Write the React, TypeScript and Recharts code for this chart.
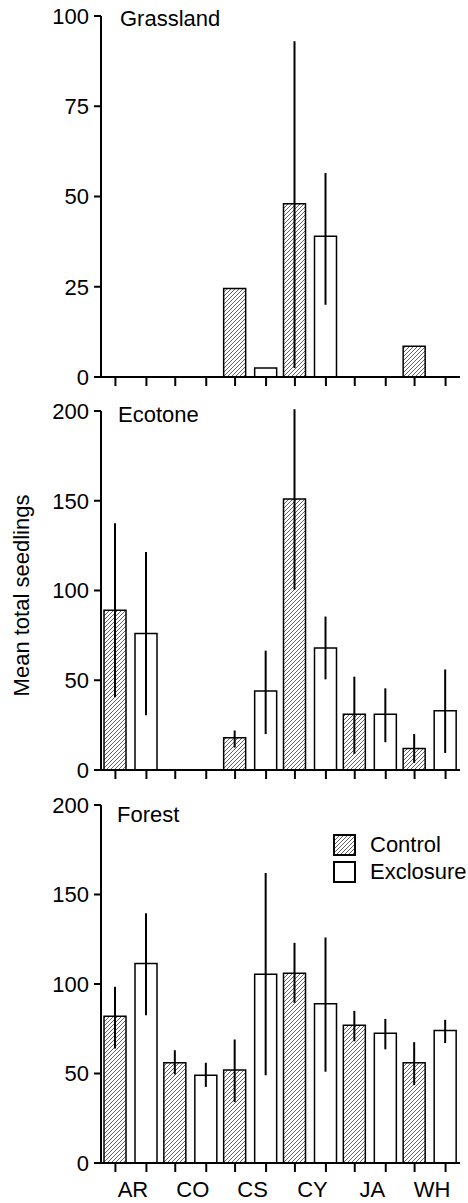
import React from 'react';
import { BarChart, Bar, XAxis, YAxis, ErrorBar, Legend } from 'recharts';

const categories = ['AR', 'CO', 'CS', 'CY', 'JA', 'WH'];

// Grassland
const grassControl = [0, 0, 24.5, 48, 0, 8.5];
const grassControlLow = [null, null, null, 2.5, null, null];
const grassControlHigh = [null, null, null, 93, null, null];
const grassExcl = [0, 0, 2.5, 39, 0, 0];
const grassExclLow = [null, null, null, 20, null, null];
const grassExclHigh = [null, null, null, 56.5, null, null];

// Ecotone
const ecoControl = [89, 0, 18, 151, 31, 12];
const ecoControlLow = [40.5, null, 12.5, 100.5, 9, 4];
const ecoControlHigh = [137.5, null, 22, 201, 52, 20];
const ecoExcl = [76, 0, 44, 68, 31, 33];
const ecoExclLow = [30.5, null, 20, 50.5, 15.5, 9.5];
const ecoExclHigh = [121.5, null, 66.5, 85.5, 45.5, 56];

// Forest
const forControl = [82, 56, 52, 106, 77, 56];
const forControlLow = [64, 49.5, 34, 89.5, 68, 43.5];
const forControlHigh = [98.5, 63, 69, 123, 85, 67.5];
const forExcl = [111.5, 49, 105.5, 89, 72.5, 74];
const forExclLow = [82.5, 42.5, 49, 51, 63.5, 67];
const forExclHigh = [139.5, 56, 162, 126, 80.5, 80];

const grassTicks = [0, 25, 50, 75, 100];
const otherTicks = [0, 50, 100, 150, 200];

const BAR_SIZE = 22;
const BAR_GAP = 9;
const FS = 22;
const FONT = '"Liberation Sans", Arial, Helvetica, sans-serif';

type N = number | null;
const err = (m: number, lo: N, hi: N) => (lo == null || hi == null ? null : [m - lo, hi - m]);

const buildRows = (c: number[], cl: N[], ch: N[], e: number[], el: N[], eh: N[]) =>
  categories.map((cat, i) => ({
    cat,
    control: c[i],
    exclosure: e[i],
    cErr: err(c[i], cl[i], ch[i]),
    eErr: err(e[i], el[i], eh[i]),
  }));

const grassRows = buildRows(grassControl, grassControlLow, grassControlHigh, grassExcl, grassExclLow, grassExclHigh);
const ecoRows = buildRows(ecoControl, ecoControlLow, ecoControlHigh, ecoExcl, ecoExclLow, ecoExclHigh);
const forRows = buildRows(forControl, forControlLow, forControlHigh, forExcl, forExclLow, forExclHigh);

const XTick = (props: any) => {
  const { x, y, payload, showLabel } = props;
  const half = (BAR_SIZE + BAR_GAP) / 2;
  return (
    <g>
      <line x1={x - half} x2={x - half} y1={y} y2={y + 9} stroke="#000" strokeWidth={2} />
      <line x1={x + half} x2={x + half} y1={y} y2={y + 9} stroke="#000" strokeWidth={2} />
      {showLabel && (
        <text x={x + 2} y={y + 34} textAnchor="middle" fontSize={FS} fill="#000" fontFamily={FONT}>
          {payload.value}
        </text>
      )}
    </g>
  );
};

const LegendContent = (props: any) => {
  const { payload } = props;
  return (
    <div style={{ display: 'flex', flexDirection: 'column', gap: 6, fontFamily: FONT }}>
      {(payload || []).map((p: any) => (
        <div key={p.value} style={{ display: 'flex', alignItems: 'center', height: 21 }}>
          <svg width={23} height={22} style={{ display: 'block' }}>
            <rect x={1} y={1} width={21} height={20} fill={p.value === 'Control' ? 'url(#hatch)' : '#fff'} stroke="#000" strokeWidth={2} />
          </svg>
          <span style={{ marginLeft: 14, fontSize: FS, lineHeight: '21px', color: '#000', whiteSpace: 'nowrap' }}>{p.value}</span>
        </div>
      ))}
    </div>
  );
};

const YLabel = (props: any) => {
  const vb = props.viewBox || { x: 0, y: 0, width: 0, height: 0 };
  const cx = vb.x + 21;
  const cy = vb.y + vb.height / 2 + 5;
  return (
    <text
      x={cx}
      y={cy}
      transform={`rotate(-90, ${cx}, ${cy})`}
      textAnchor="middle"
      dominantBaseline="central"
      fontSize={FS}
      fill="#000"
      fontFamily={FONT}
    >
      Mean total seedlings
    </text>
  );
};

type PanelProps = {
  rows: any[];
  top: number;
  height: number;
  marginTop: number;
  xHeight: number;
  max: number;
  ticks: number[];
  showLabels?: boolean;
  yLabel?: boolean;
  legend?: boolean;
};

const Panel = ({ rows, top, height, marginTop, xHeight, max, ticks, showLabels, yLabel, legend }: PanelProps) => (
  <div style={{ position: 'absolute', left: 0, top, width: 468, height }}>
    <BarChart
      width={468}
      height={height}
      data={rows}
      margin={{ top: marginTop, right: 8, bottom: 0, left: 0 }}
      barGap={BAR_GAP}
    >
      <XAxis
        dataKey="cat"
        height={xHeight}
        axisLine={{ stroke: '#000', strokeWidth: 2 }}
        tickLine={false}
        tickSize={0}
        tickMargin={0}
        interval={0}
        tick={<XTick showLabel={!!showLabels} />}
      />
      <YAxis
        width={101}
        domain={[0, max]}
        ticks={ticks}
        interval={0}
        allowDataOverflow
        axisLine={{ stroke: '#000', strokeWidth: 2 }}
        tickLine={{ stroke: '#000', strokeWidth: 2 }}
        tickSize={7}
        tickMargin={5}
        tick={{ fill: '#000', fontSize: FS, fontFamily: FONT }}
        label={yLabel ? { content: YLabel } : undefined}
      />
      {legend && (
        <Legend
          layout="vertical"
          align="center"
          verticalAlign="middle"
          wrapperStyle={{ top: 44, left: 333, width: 135 }}
          content={<LegendContent />}
        />
      )}
      <Bar
        dataKey="control"
        name="Control"
        fill="url(#hatch)"
        stroke="#000"
        strokeWidth={1.5}
        barSize={BAR_SIZE}
        isAnimationActive={false}
      >
        <ErrorBar dataKey="cErr" width={0} stroke="#000" strokeWidth={2} direction="y" />
      </Bar>
      <Bar
        dataKey="exclosure"
        name="Exclosure"
        fill="#fff"
        stroke="#000"
        strokeWidth={1.5}
        barSize={BAR_SIZE}
        isAnimationActive={false}
      >
        <ErrorBar dataKey="eErr" width={0} stroke="#000" strokeWidth={2} direction="y" />
      </Bar>
    </BarChart>
  </div>
);

const titleStyle = (left: number, top: number): React.CSSProperties => ({
  position: 'absolute',
  left,
  top,
  fontSize: FS,
  lineHeight: '22px',
  fontFamily: FONT,
  color: '#000',
  whiteSpace: 'nowrap',
});

export default function App() {
  return (
    <div style={{ position: 'absolute', left: 0, top: 0, width: 468, height: 1203, background: '#fff', fontFamily: FONT, overflow: 'hidden' }}>
      <svg width={0} height={0} style={{ position: 'absolute' }}>
        <defs>
          <pattern id="hatch" patternUnits="userSpaceOnUse" width={4} height={4}>
            <rect width={4} height={4} fill="#fff" />
            <path d="M-1,1 l2,-2 M0,4 l4,-4 M3,5 l2,-2" stroke="#505050" strokeWidth={0.9} />
          </pattern>
        </defs>
      </svg>
      <Panel rows={grassRows} top={0} height={400} marginTop={16} xHeight={23} max={100} ticks={grassTicks} />
      <Panel rows={ecoRows} top={400} height={400} marginTop={11} xHeight={30} max={200} ticks={otherTicks} yLabel />
      <Panel rows={forRows} top={790} height={413} marginTop={15} xHeight={40} max={200} ticks={otherTicks} showLabels legend />
      <div style={titleStyle(120, 8)}>Grassland</div>
      <div style={titleStyle(118, 404)}>Ecotone</div>
      <div style={titleStyle(117, 804)}>Forest</div>
    </div>
  );
}
